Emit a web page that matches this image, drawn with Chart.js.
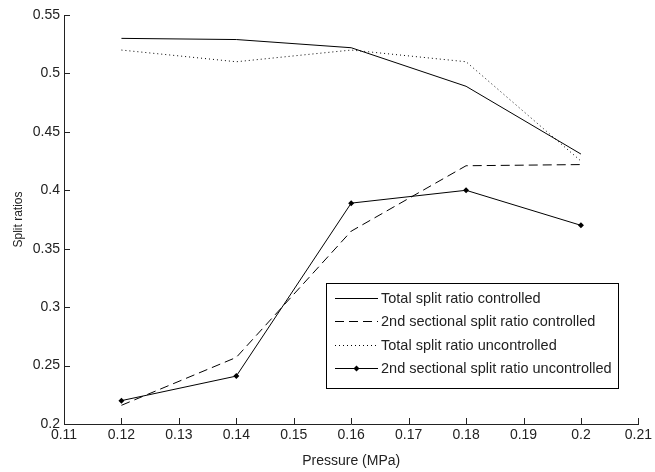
<!DOCTYPE html>
<html>
<head>
<meta charset="utf-8">
<script src="https://cdn.jsdelivr.net/npm/chart.js@4/dist/chart.umd.min.js"></script>
<style>
  body { margin: 0; background: #fff; }
  #wrap { width: 655px; height: 472px; }
</style>
</head>
<body>
<div id="wrap"><canvas id="grafico" width="655" height="472"></canvas></div>
<script>
// pressure values (MPa)
var pressure = [0.12, 0.14, 0.16, 0.18, 0.2];

// split ratios
var totalControlled = [0.530, 0.529, 0.522, 0.489, 0.431];
var secondControlled = [0.216, 0.257, 0.365, 0.421, 0.422];
var totalUncontrolled = [0.520, 0.510, 0.520, 0.510, 0.425];
var secondUncontrolled = [0.220, 0.241, 0.389, 0.400, 0.370];

var seriesNames = [
    'Total split ratio controlled',
    '2nd sectional split ratio controlled',
    'Total split ratio uncontrolled',
    '2nd sectional split ratio uncontrolled'
];

var xTicks = [0.11, 0.12, 0.13, 0.14, 0.15, 0.16, 0.17, 0.18, 0.19, 0.2, 0.21];
var yTicks = [0.2, 0.25, 0.3, 0.35, 0.4, 0.45, 0.5, 0.55];

var corTexto = '#222';
var fonte = 'Liberation Sans, Arial, sans-serif';

function pontos(valores){
    return valores.map(function(v, i){ return {x: pressure[i], y: v}; });
}

var estilos = [
    {dash: [], marker: false},
    {dash: [9, 5], marker: false},
    {dash: [1, 3], marker: false},
    {dash: [], marker: true}
];
var valores = [totalControlled, secondControlled, totalUncontrolled, secondUncontrolled];

var datasets = valores.map(function(v, i){
    return {
        label: seriesNames[i],
        data: pontos(v),
        borderColor: '#000',
        backgroundColor: '#000',
        borderWidth: 1,
        borderDash: estilos[i].dash,
        pointRadius: estilos[i].marker ? 3 : 0,
        pointStyle: 'rectRot',
        pointBorderWidth: 0,
        tension: 0,
        fill: false
    };
});

function formata(v){ return String(+(+v).toFixed(2)); }

// ticks pointing inside, like the original figure
var ticksInternos = {
    id: 'ticksInternos',
    afterDatasetsDraw: function(chart){
        var ctx = chart.ctx;
        var a = chart.chartArea;
        var sx = chart.scales.x, sy = chart.scales.y;
        ctx.save();
        ctx.strokeStyle = corTexto;
        ctx.lineWidth = 1;
        ctx.beginPath();
        xTicks.forEach(function(t){
            var px = Math.round(sx.getPixelForValue(t)) + 0.5;
            ctx.moveTo(px, a.bottom);
            ctx.lineTo(px, a.bottom - 6);
        });
        yTicks.forEach(function(t){
            var py = Math.round(sy.getPixelForValue(t)) + 0.5;
            ctx.moveTo(a.left, py);
            ctx.lineTo(a.left + 6, py);
        });
        ctx.stroke();
        ctx.restore();
    }
};

// legend box inside the plot, lower right
var legenda = {
    id: 'legenda',
    afterDraw: function(chart){
        var ctx = chart.ctx;
        var x0 = 326.5, y0 = 283.5, w = 292, h = 105;
        ctx.save();
        ctx.fillStyle = '#fff';
        ctx.fillRect(x0, y0, w, h);
        ctx.strokeStyle = '#000';
        ctx.lineWidth = 1;
        ctx.strokeRect(x0, y0, w, h);
        ctx.font = '14.5px ' + fonte;
        ctx.textBaseline = 'middle';
        for (var i = 0; i < seriesNames.length; i++){
            var yy = Math.round(298 + i * 23.3) + 0.5;
            ctx.setLineDash(estilos[i].dash);
            ctx.beginPath();
            ctx.moveTo(335, yy);
            ctx.lineTo(378, yy);
            ctx.stroke();
            ctx.setLineDash([]);
            if (estilos[i].marker){
                ctx.fillStyle = '#000';
                ctx.beginPath();
                ctx.moveTo(356.5, yy - 3);
                ctx.lineTo(359.5, yy);
                ctx.lineTo(356.5, yy + 3);
                ctx.lineTo(353.5, yy);
                ctx.closePath();
                ctx.fill();
            }
            ctx.fillStyle = corTexto;
            ctx.fillText(seriesNames[i], 381, yy);
        }
        ctx.restore();
    }
};

var ctx = document.getElementById('grafico').getContext('2d');
window.myChart = new Chart(ctx, {
    type: 'line',
    data: { datasets: datasets },
    plugins: [ticksInternos, legenda],
    options: {
        responsive: false,
        animation: false,
        devicePixelRatio: 1,
        layout: { padding: { top: 15, right: 12, left: 0, bottom: 0 } },
        plugins: {
            legend: { display: false },
            tooltip: { enabled: false }
        },
        scales: {
            x: {
                type: 'linear',
                min: 0.11,
                max: 0.21,
                afterBuildTicks: function(scale){
                    scale.ticks = xTicks.map(function(v){ return {value: v}; });
                },
                afterFit: function(scale){ scale.height = 48; },
                ticks: {
                    color: corTexto,
                    font: { family: fonte, size: 14 },
                    padding: 3,
                    maxRotation: 0,
                    autoSkip: false,
                    callback: function(v){ return formata(v); }
                },
                grid: { drawOnChartArea: false, drawTicks: false },
                border: { display: true, color: corTexto, width: 1 },
                title: {
                    display: true,
                    text: 'Pressure (MPa)',
                    color: corTexto,
                    font: { family: fonte, size: 14 },
                    padding: { top: 0, bottom: 2 }
                }
            },
            y: {
                min: 0.2,
                max: 0.55,
                afterBuildTicks: function(scale){
                    scale.ticks = yTicks.map(function(v){ return {value: v}; });
                },
                afterFit: function(scale){ scale.width = 64; },
                ticks: {
                    color: corTexto,
                    font: { family: fonte, size: 14 },
                    padding: 4,
                    autoSkip: false,
                    callback: function(v){ return formata(v); }
                },
                grid: { drawOnChartArea: false, drawTicks: false },
                border: { display: true, color: corTexto, width: 1 },
                title: {
                    display: true,
                    text: 'Split ratios',
                    color: corTexto,
                    font: { family: fonte, size: 12 },
                    padding: { top: 11, bottom: 0 }
                }
            }
        }
    }
});
</script>
</body>
</html>
